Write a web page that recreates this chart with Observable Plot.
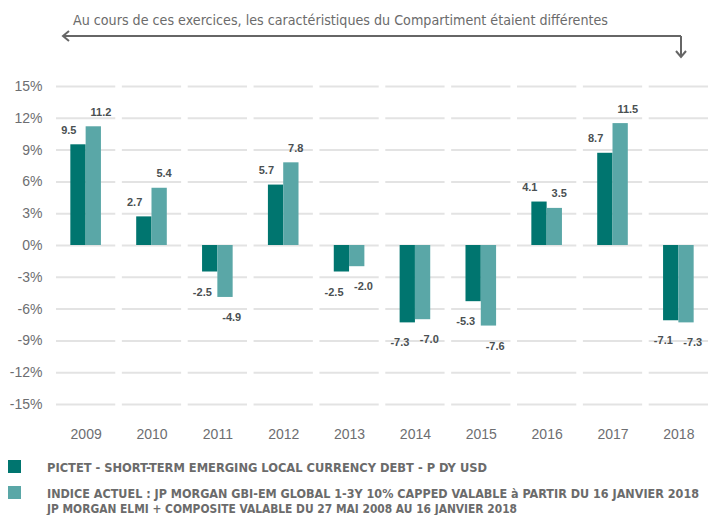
<!DOCTYPE html>
<html>
<head>
<meta charset="utf-8">
<script src="https://cdn.jsdelivr.net/npm/d3@7"></script>
<script src="https://cdn.jsdelivr.net/npm/@observablehq/plot@0.6"></script>
<style>
  html, body { margin: 0; padding: 0; background: #ffffff; }
  #wrap { width: 708px; height: 515px; overflow: hidden; }
  svg { display: block; }
  .cond { font-family: "Liberation Sans Narrow", "DejaVu Sans Condensed", "Liberation Sans", sans-serif; font-stretch: condensed; }
</style>
</head>
<body>
<div id="wrap">
  <svg id="note" width="708" height="62">
    <text class="cond" x="73" y="25" font-size="14.5" fill="#6b6b6b" textLength="535" lengthAdjust="spacingAndGlyphs">Au cours de ces exercices, les caractéristiques du Compartiment étaient différentes</text>
    <path d="M681,36 H63 M69,31 L63,36 L69,41 M681,36 V57 M676,51 L681,57 L686,51" fill="none" stroke="#666666" stroke-width="2"/>
  </svg>
  <div id="chart"></div>
  <svg id="legend" width="708" height="63"></svg>
</div>
<script>
const years = ["2009", "2010", "2011", "2012", "2013", "2014", "2015", "2016", "2017", "2018"];
const fundValues = [9.5, 2.7, -2.5, 5.7, -2.5, -7.3, -5.3, 4.1, 8.7, -7.1];
const indexValues = [11.2, 5.4, -4.9, 7.8, -2.0, -7.0, -7.6, 3.5, 11.5, -7.3];
const yTicks = [-15, -12, -9, -6, -3, 0, 3, 6, 9, 12, 15];
const fundName = "PICTET - SHORT-TERM EMERGING LOCAL CURRENCY DEBT - P DY USD";
const indexNameLines = [
  "INDICE ACTUEL : JP MORGAN GBI-EM GLOBAL 1-3Y 10% CAPPED VALABLE à PARTIR DU 16 JANVIER 2018",
  "JP MORGAN ELMI + COMPOSITE VALABLE DU 27 MAI 2008 AU 16 JANVIER 2018"
];

const darkColor = "#00756f";
const lightColor = "#5aa7a7";

const data = years.flatMap((year, i) => [
  {year, series: "fund", value: fundValues[i]},
  {year, series: "index", value: indexValues[i]}
]);
const grid = years.flatMap(year => yTicks.map(t => ({year, t})));

const width = 708, marginLeft = 56, marginRight = 0, paddingInner = 0.1;
const step = (width - marginLeft - marginRight) / (years.length - paddingInner);
const halfBw = step * (1 - paddingInner) / 2;
const barW = 15.3;

const fund = data.filter(d => d.series === "fund");
const index = data.filter(d => d.series === "index");
const fmt = d => d.value.toFixed(1);
const labelStyle = {fontSize: 11, fontWeight: "bold", fill: "#4a5052", textAnchor: "start"};

const chart = Plot.plot({
  width,
  height: 390,
  marginLeft,
  marginRight,
  marginTop: 24,
  marginBottom: 48,
  style: {fontFamily: "'Liberation Sans', Arial, sans-serif", background: "transparent"},
  x: {type: "band", domain: years, paddingInner, paddingOuter: 0, round: false, label: null},
  y: {domain: [-15, 15], label: null},
  marks: [
    Plot.tickY(grid, {x: "year", y: "t", stroke: "#e3e3e3", strokeWidth: 2}),
    Plot.barY(fund, {x: "year", y: "value", fill: darkColor, insetLeft: halfBw - barW, insetRight: halfBw}),
    Plot.barY(index, {x: "year", y: "value", fill: lightColor, insetLeft: halfBw, insetRight: halfBw - barW}),
    Plot.text(fund, {x: "year", y: "value", text: fmt, filter: d => d.value >= 0, dx: -25, dy: -14.5, ...labelStyle}),
    Plot.text(fund, {x: "year", y: "value", text: fmt, filter: d => d.value < 0, dx: -25, dy: 20, ...labelStyle}),
    Plot.text(index, {x: "year", y: "value", text: fmt, filter: d => d.value >= 0, dx: 4.4, dy: -14.5, ...labelStyle}),
    Plot.text(index, {x: "year", y: "value", text: fmt, filter: d => d.value < 0, dx: 4.4, dy: 20, ...labelStyle}),
    Plot.axisY({ticks: yTicks, tickFormat: d => d + "%", tickSize: 0, tickPadding: 14, fontSize: 14, fill: "#6d6e71", label: null}),
    Plot.axisX({tickSize: 0, tickPadding: 25, fontSize: 14, fill: "#6d6e71", label: null})
  ]
});
document.getElementById("chart").appendChild(chart);

// legend
const ns = "http://www.w3.org/2000/svg";
const legend = document.getElementById("legend");
function add(tag, attrs, text) {
  const el = document.createElementNS(ns, tag);
  for (const k in attrs) el.setAttribute(k, attrs[k]);
  if (text) el.textContent = text;
  legend.appendChild(el);
  return el;
}
add("rect", {x: 8, y: 8, width: 13, height: 13, fill: darkColor});
add("rect", {x: 8, y: 34, width: 13, height: 13, fill: lightColor});
const legendLines = [
  {text: fundName, y: 19.7, len: 440},
  {text: indexNameLines[0], y: 46, len: 652},
  {text: indexNameLines[1], y: 61, len: 470}
];
legendLines.forEach(l => add("text", {
  x: 47, y: l.y, "class": "cond", "font-size": 12.5, "font-weight": "bold", fill: "#6b6b6b",
  textLength: l.len, lengthAdjust: "spacingAndGlyphs"
}, l.text));
</script>
</body>
</html>
